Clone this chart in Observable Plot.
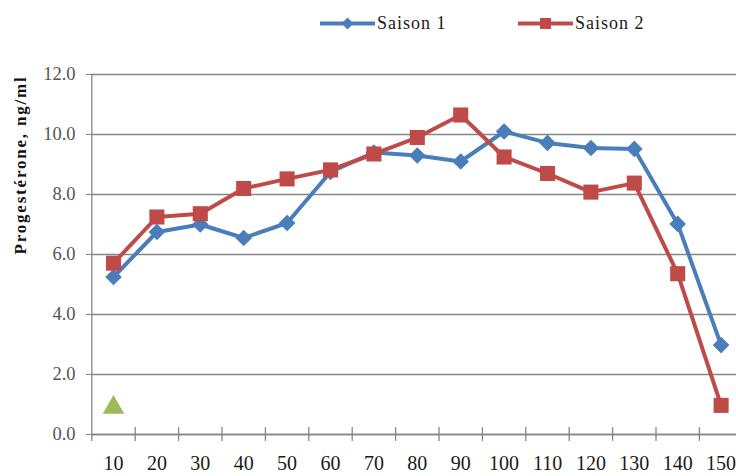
<!DOCTYPE html>
<html>
<head>
<meta charset="utf-8">
<script src="https://cdn.jsdelivr.net/npm/d3@7"></script>
<script src="https://cdn.jsdelivr.net/npm/@observablehq/plot@0.6"></script>
<style>
  body { margin: 0; background: #fff; width: 736px; height: 476px; overflow: hidden;
         font-family: "Liberation Serif", "Times New Roman", serif; }
  #legend { position: relative; height: 50px; }
  .item { position: absolute; top: 12px; height: 22px; display: flex; align-items: center;
          font-size: 18px; letter-spacing: 1px; color: #1a1a1a; }
  .item svg { margin-right: 2px; }
  #chart svg { display: block; }
</style>
</head>
<body>
<div id="legend"></div>
<div id="chart"></div>
<script>
// Sampling days (category axis)
const days = [10, 20, 30, 40, 50, 60, 70, 80, 90, 100, 110, 120, 130, 140, 150];
// Mean progesterone concentration, ng/ml
const saison1 = [5.25, 6.75, 7.0, 6.55, 7.05, 8.75, 9.4, 9.3, 9.1, 10.1, 9.72, 9.55, 9.52, 7.02, 2.98];
const saison2 = [5.71, 7.25, 7.36, 8.2, 8.52, 8.82, 9.35, 9.9, 10.65, 9.25, 8.7, 8.08, 8.38, 5.36, 0.97];
// Single green marker at day 10
const repereDays = [10];
const repereValues = [0.9];

const seriesNames = ["Saison 1", "Saison 2"];
const seriesColors = ["#4a7ebb", "#be4b48"];
const seriesSymbols = ["diamond2", "square"];
const yTicks = [0, 2, 4, 6, 8, 10, 12];
const yTitle = "Progestérone, ng/ml";

const rows1 = days.map((d, i) => ({day: d, value: saison1[i]}));
const rows2 = days.map((d, i) => ({day: d, value: saison2[i]}));
const repere = repereDays.map((d, i) => ({day: d, value: repereValues[i]}));

// category edges: each day occupies a slot of width 10 centred on it
const edges = d3.range(days[0] - 5, days[days.length - 1] + 6, 10);

// Legend
const legend = document.getElementById("legend");
const legendLeft = [320, 518];
seriesNames.forEach((name, i) => {
  const item = document.createElement("div");
  item.className = "item";
  item.style.left = legendLeft[i] + "px";
  const marker = seriesSymbols[i] === "square"
    ? `<rect x="22" y="3" width="11" height="11" fill="${seriesColors[i]}"/>`
    : `<path d="M27.5,2.5L33.5,8.5L27.5,14.5L21.5,8.5Z" fill="${seriesColors[i]}"/>`;
  item.innerHTML = `<svg width="55" height="17"><line x1="0" x2="55" y1="8.5" y2="8.5" stroke="${seriesColors[i]}" stroke-width="4"/>${marker}</svg><span>${name}</span>`;
  legend.appendChild(item);
});

const axisColor = "#868686";

const chart = Plot.plot({
  width: 736,
  height: 426,
  marginLeft: 91,
  marginRight: 0,
  marginTop: 24,
  marginBottom: 42,
  style: {fontFamily: "'Liberation Serif', 'Times New Roman', serif", background: "#fff", overflow: "hidden"},
  x: {type: "linear", domain: [edges[0], edges[edges.length - 1]], range: [91.3, 742.3]},
  y: {domain: [0, 12]},
  marks: [
    Plot.gridY(yTicks, {stroke: axisColor, strokeOpacity: 1, strokeWidth: 1.3}),
    Plot.axisY(yTicks, {tickFormat: d => d.toFixed(1), tickSize: 5, tickPadding: 11,
                        fontSize: 18.5, fill: "#555", stroke: axisColor, label: null}),
    Plot.ruleX([edges[0]], {y1: -0.23, y2: 12, stroke: axisColor, strokeWidth: 1.3}),
    Plot.ruleY([0], {stroke: axisColor, strokeWidth: 1.3}),
    Plot.ruleX(edges.slice(1), {y1: -0.23, y2: 0.23, stroke: axisColor, strokeWidth: 1.3}),
    Plot.axisX(days, {tickSize: 0, tickPadding: 21, fontSize: 20, fill: "#1a1a1a", label: null}),
    Plot.text([yTitle], {frameAnchor: "left", rotate: -90, dx: -71, dy: 0, fontSize: 17,
                         fontWeight: "bold", fill: "#111"}),
    Plot.line(rows1, {x: "day", y: "value", stroke: seriesColors[0], strokeWidth: 4}),
    Plot.dot(rows1, {x: "day", y: "value", symbol: seriesSymbols[0], r: 7.5, fill: seriesColors[0]}),
    Plot.line(rows2, {x: "day", y: "value", stroke: seriesColors[1], strokeWidth: 4}),
    Plot.dot(rows2, {x: "day", y: "value", symbol: seriesSymbols[1], r: 8.5, fill: seriesColors[1]}),
    Plot.dot(repere, {x: "day", y: "value", symbol: "triangle", r: 8, fill: "#9bbb59"})
  ]
});
// loosen the letter spacing of the rotated y title
chart.querySelectorAll('g[aria-label="text"] text').forEach(t => t.style.letterSpacing = "1.8px");
document.getElementById("chart").appendChild(chart);
</script>
</body>
</html>
